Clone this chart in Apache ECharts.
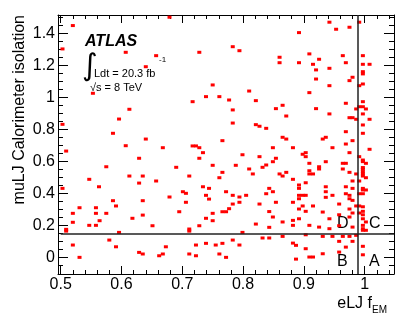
<!DOCTYPE html>
<html><head><meta charset="utf-8">
<script src="https://cdn.jsdelivr.net/npm/echarts@6/dist/echarts.min.js"></script>
<style>html,body{margin:0;padding:0;background:#fff}#c{width:415px;height:319px}</style>
</head><body><div id="c"></div>
<script>
// ---- axis ranges and ticks ----
const X_MIN = 0.4956, X_MAX = 1.0482;
const Y_MIN = -0.104, Y_MAX = 1.514;
const xMajorTicks = [0.5, 0.6, 0.7, 0.8, 0.9, 1.0];
const xMinorTicks = [0.52, 0.54, 0.56, 0.58, 0.62, 0.64, 0.66, 0.68, 0.72, 0.74, 0.76, 0.78,
  0.82, 0.84, 0.86, 0.88, 0.92, 0.94, 0.96, 0.98, 1.02, 1.04];
const yMajorTicks = [0, 0.2, 0.4, 0.6, 0.8, 1.0, 1.2, 1.4];
const yMinorTicks = [-0.05, 0.05, 0.1, 0.15, 0.25, 0.3, 0.35, 0.45, 0.5, 0.55, 0.65, 0.7, 0.75,
  0.85, 0.9, 0.95, 1.05, 1.1, 1.15, 1.25, 1.3, 1.35, 1.45, 1.5];
// ---- selection cuts ----
const cutFEM = 0.988;
const cutIso = 0.15;
const cutLineStartX = 0.5;

// ---- events [eLJ f_EM, muLJ calorimeter isolation] by region ----
const regionA = [[0.997,0.069],[0.997,0.016]];
const regionB = [
 [0.832,0.121],[0.843,0.121],[0.865,0.131],[0.903,0.141],[0.931,0.131],[0.947,0.131],[0.964,0.131],
 [0.975,0.131],[0.986,0.1375],[0.958,0.100],[0.980,0.100],[0.882,0.089],[0.887,0.075],[0.903,0.054],
 [0.969,0.064],[0.958,0.033],[0.931,0.0225],[0.909,0.002],[0.915,0.002],[0.887,-0.011],
 [0.580,0.108],[0.520,0.077],[0.591,0.066],[0.629,0.031],[0.531,0.000],
 [0.783,0.108],[0.739,0.0875],[0.7225,0.077],[0.755,0.077],[0.766,0.0875],[0.794,0.077],[0.673,0.066],
 [0.635,0.021],[0.662,0.010],[0.668,0.021],[0.7115,0.021],[0.7225,0.010],[0.761,0.021],[0.772,0.000]
];
const regionC = [
 [0.991,1.469],[0.997,1.260],[0.997,1.206],[1.008,1.206],[0.997,1.160],[0.997,1.146],[0.997,1.083],
 [0.991,1.0725],[0.997,0.9725],[0.991,0.941],[0.997,0.941],[1.002,0.927],[0.997,0.896],[1.008,0.8625],
 [0.997,0.827],[0.997,0.775],[1.008,0.675],[0.991,0.629],[0.997,0.608],[0.997,0.598],[1.002,0.5875],
 [0.997,0.561],[0.997,0.550],[0.997,0.535],[0.997,0.521],[0.997,0.508],[1.002,0.4975],[0.991,0.477],
 [0.997,0.431],[0.997,0.421],[1.002,0.421],[0.991,0.3975],[0.997,0.3975],[0.991,0.321],[0.997,0.316],
 [0.991,0.277],[0.997,0.2875],[0.997,0.266],[0.997,0.241],[1.002,0.221],[0.997,0.200],[0.997,0.179],
 [0.997,0.169],[1.002,0.169]
];
const regionD = [
 [0.520,1.448],[0.503,1.302],[0.607,1.281],[0.553,1.025],[0.613,0.925],
 [0.679,1.50],[0.657,1.260],[0.640,1.191],[0.728,1.281],[0.783,1.316],[0.794,1.291],[0.750,1.077],
 [0.810,1.039],[0.739,1.004],[0.761,1.004],[0.777,0.983],[0.717,0.9725],[0.821,0.979],[0.783,0.921],
 [0.942,1.469],[0.953,1.425],[0.975,1.4375],[0.892,1.404],[0.909,1.271],[0.860,1.250],[0.964,1.260],
 [0.860,1.216],[0.892,1.216],[0.925,1.2375],[0.915,1.206],[0.969,1.216],[0.920,1.171],[0.942,1.181],
 [0.980,1.125],[0.920,1.114],[0.975,1.104],[0.942,1.0725],[0.909,1.029],[0.865,0.950],[0.969,0.9625],
 [0.854,0.929],[0.920,0.929],
 [0.986,0.927],[0.871,0.883],[0.942,0.896],[0.975,0.8725],[0.980,0.8725],[0.986,0.8625],[0.838,0.806],
 [0.827,0.819],[0.969,0.785],[0.865,0.750],[0.871,0.739],[0.931,0.739],[0.936,0.750],[0.980,0.729],
 [0.969,0.708],[0.849,0.685],[0.882,0.685],[0.947,0.685],[0.898,0.644],[0.903,0.654],[0.903,0.629],
 [0.975,0.654],[0.827,0.629],[0.854,0.619],[0.849,0.5975],[0.936,0.5975],[0.838,0.577],[0.832,0.5625],
 [0.909,0.5875],[0.964,0.5875],[0.969,0.5875],[0.925,0.566],[0.925,0.552],[0.964,0.552],[0.909,0.541],
 [0.871,0.531],[0.860,0.521],[0.865,0.508],[0.909,0.521],[0.915,0.521],[0.975,0.531],[0.986,0.521],
 [0.882,0.4875],[0.980,0.477],[0.903,0.466],[0.892,0.452],[0.936,0.441],[0.969,0.441],[0.892,0.431],
 [0.843,0.431],[0.980,0.431],[0.849,0.410],[0.936,0.410],[0.838,0.3975],[0.969,0.3975],[0.892,0.3875],
 [0.898,0.3875],[0.903,0.3875],[0.947,0.3875],[0.975,0.3875],[0.892,0.366],[0.936,0.375],[0.975,0.366],
 [0.980,0.356],[0.854,0.344],[0.882,0.344],[0.958,0.333],[0.898,0.321],[0.915,0.321],[0.986,0.321],
 [0.892,0.302],[0.975,0.302],
 [0.843,0.286],[0.903,0.2875],[0.931,0.283],[0.958,0.266],[0.980,0.277],[0.849,0.252],[0.882,0.231],
 [0.892,0.241],[0.942,0.241],[0.975,0.252],[0.865,0.221],[0.882,0.200],[0.909,0.200],[0.925,0.189],
 [0.942,0.179],[0.958,0.1975],[0.980,0.189],
 [0.596,0.864],[0.503,0.831],[0.586,0.775],[0.607,0.6975],[0.509,0.664],[0.629,0.619],[0.575,0.566],
 [0.547,0.4875],[0.613,0.508],[0.629,0.464],[0.563,0.441],[0.503,0.431],[0.586,0.354],[0.591,0.321],
 [0.531,0.310],[0.558,0.310],
 [0.520,0.275],[0.558,0.275],[0.575,0.275],[0.618,0.244],[0.564,0.229],[0.520,0.219],[0.547,0.200],
 [0.558,0.200],[0.509,0.175],[0.509,0.164],[0.596,0.156],
 [0.783,0.839],[0.821,0.829],[0.640,0.739],[0.668,0.685],[0.766,0.729],[0.717,0.696],[0.7225,0.696],
 [0.728,0.685],[0.734,0.654],[0.799,0.641],[0.728,0.619],[0.690,0.5625],[0.750,0.575],[0.788,0.575],
 [0.810,0.552],[0.766,0.531],[0.816,0.521],[0.7115,0.508],[0.635,0.508],[0.761,0.4975],[0.657,0.477],
 [0.734,0.441],[0.744,0.431],[0.701,0.410],[0.706,0.400],[0.772,0.410],[0.679,0.377],[0.739,0.3875],
 [0.783,0.3875],[0.805,0.3875],[0.744,0.364],[0.794,0.377],[0.635,0.354],[0.706,0.344],[0.783,0.333],
 [0.794,0.344],[0.827,0.333],[0.777,0.304],
 [0.635,0.264],[0.651,0.1975],[0.695,0.285],[0.750,0.275],[0.739,0.244],[0.750,0.229],[0.728,0.1975],
 [0.7115,0.177],[0.7115,0.164],[0.766,0.285],[0.772,0.285],[0.821,0.208],[0.843,0.1875],[0.799,0.156]
];

// ---- build chart ----
const FONT = '"Liberation Sans", Arial, Helvetica, sans-serif';
function mkAxis(pos, min, max, ticks, len, showLabel, showLine) {
  return {
    type: 'value', position: pos, min: min, max: max,
    axisLine: { show: showLine, onZero: false, lineStyle: { color: '#000', width: 1 } },
    axisTick: { show: true, inside: true, length: len, customValues: ticks, lineStyle: { color: '#000', width: 1 } },
    axisLabel: showLabel ? { show: true, customValues: ticks, color: '#000', fontSize: 16, fontFamily: FONT, margin: 3 } : { show: false },
    splitLine: { show: false }, minorTick: { show: false }
  };
}
const chart = echarts.init(document.getElementById('c'), null, { renderer: 'canvas' });
const allPoints = regionD.concat(regionB, regionC, regionA);
chart.setOption({
  animation: false,
  backgroundColor: '#fff',
  grid: { left: 58, right: 21, top: 15, bottom: 45, containLabel: false, outerBoundsMode: 'none' },
  xAxis: [
    mkAxis('bottom', X_MIN, X_MAX, xMajorTicks, 8, true, true),
    mkAxis('bottom', X_MIN, X_MAX, xMinorTicks, 4, false, false),
    mkAxis('top', X_MIN, X_MAX, xMajorTicks, 8, false, true),
    mkAxis('top', X_MIN, X_MAX, xMinorTicks, 4, false, false)
  ],
  yAxis: [
    mkAxis('left', Y_MIN, Y_MAX, yMajorTicks, 10, true, true),
    mkAxis('left', Y_MIN, Y_MAX, yMinorTicks, 5, false, false),
    mkAxis('right', Y_MIN, Y_MAX, yMajorTicks, 10, false, true),
    mkAxis('right', Y_MIN, Y_MAX, yMinorTicks, 5, false, false)
  ],
  series: [{
    type: 'scatter', xAxisIndex: 0, yAxisIndex: 0,
    data: allPoints, symbol: 'rect', symbolSize: [4, 3],
    itemStyle: { color: '#ff0000', opacity: 1 },
    silent: true,
    markLine: {
      silent: true, symbol: 'none', label: { show: false },
      lineStyle: { color: '#222', width: 1.5, type: 'solid' },
      data: [
        [{ coord: [cutLineStartX, cutIso] }, { coord: [X_MAX, cutIso] }],
        [{ coord: [cutFEM, Y_MIN] }, { coord: [cutFEM, Y_MAX] }]
      ]
    }
  }],
  graphic: [
    { type: 'text', x: 85, y: 42, style: { text: 'ATLAS', font: 'italic bold 16px ' + FONT, fill: '#000', textVerticalAlign: 'middle', verticalAlign: 'middle' } },
    { type: 'text', x: 82, y: 67, style: { text: '\u222B', font: '30px "DejaVu Sans"', fill: '#000', textVerticalAlign: 'middle', verticalAlign: 'middle' } },
    { type: 'text', x: 94, y: 74, style: { text: 'Ldt = 20.3 fb', font: '11px ' + FONT, fill: '#000', textVerticalAlign: 'middle', verticalAlign: 'middle' } },
    { type: 'text', x: 159, y: 60, style: { text: '-1', font: '8px ' + FONT, fill: '#000', textVerticalAlign: 'middle', verticalAlign: 'middle' } },
    { type: 'text', x: 90, y: 88, style: { text: '\u221As = 8 TeV', font: '11px ' + FONT, fill: '#000', textVerticalAlign: 'middle', verticalAlign: 'middle' } },
    { type: 'text', x: 337, y: 224, style: { text: 'D', font: '16px ' + FONT, fill: '#000', textVerticalAlign: 'middle', verticalAlign: 'middle' } },
    { type: 'text', x: 369, y: 224, style: { text: 'C', font: '16px ' + FONT, fill: '#000', textVerticalAlign: 'middle', verticalAlign: 'middle' } },
    { type: 'text', x: 337, y: 262, style: { text: 'B', font: '16px ' + FONT, fill: '#000', textVerticalAlign: 'middle', verticalAlign: 'middle' } },
    { type: 'text', x: 369, y: 262, style: { text: 'A', font: '16px ' + FONT, fill: '#000', textVerticalAlign: 'middle', verticalAlign: 'middle' } },
    { type: 'text', x: 372, y: 304, style: { text: 'eLJ f', font: '16px ' + FONT, fill: '#000', textAlign: 'right', align: 'right', textVerticalAlign: 'middle', verticalAlign: 'middle' } },
    { type: 'text', x: 372, y: 310, style: { text: 'EM', font: '10px ' + FONT, fill: '#000', textVerticalAlign: 'middle', verticalAlign: 'middle' } },
    { type: 'text', x: 20, y: 15, rotation: Math.PI / 2, style: { text: 'muLJ Calorimeter isolation', font: '16px ' + FONT, fill: '#000', textAlign: 'right', align: 'right', textVerticalAlign: 'middle', verticalAlign: 'middle' } }
  ]
});
</script></body></html>
